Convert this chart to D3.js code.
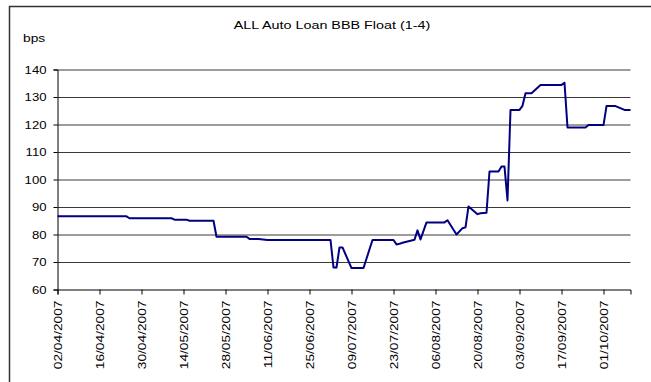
<!DOCTYPE html>
<html>
<head>
<script src="https://cdn.jsdelivr.net/npm/d3@7"></script>
<style>
body { margin: 0; background: #fff; }
text { font-family: "Liberation Sans", Arial, sans-serif; fill: #000; }
</style>
</head>
<body>
<script>
// chart data
var title = "ALL Auto Loan BBB Float (1-4)";
var unitLabel = "bps";

var dates = ["02/04/2007","25/04/2007","26/04/2007","10/05/2007","11/05/2007","15/05/2007",
  "16/05/2007","24/05/2007","25/05/2007","04/06/2007","05/06/2007","08/06/2007","11/06/2007",
  "02/07/2007","03/07/2007","04/07/2007","05/07/2007","06/07/2007","09/07/2007","13/07/2007",
  "16/07/2007","23/07/2007","24/07/2007","25/07/2007","26/07/2007","27/07/2007","30/07/2007",
  "31/07/2007","01/08/2007","03/08/2007","09/08/2007","10/08/2007","13/08/2007","15/08/2007",
  "16/08/2007","17/08/2007","20/08/2007","21/08/2007","23/08/2007","24/08/2007","27/08/2007",
  "28/08/2007","29/08/2007","30/08/2007","31/08/2007","03/09/2007","04/09/2007","05/09/2007",
  "07/09/2007","10/09/2007","17/09/2007","18/09/2007","19/09/2007","25/09/2007","26/09/2007",
  "01/10/2007","02/10/2007","05/10/2007","08/10/2007","10/10/2007"];
var spreads = [86.6,86.6,85.9,85.9,85.4,85.4,
  85.0,85.0,79.2,79.2,78.4,78.4,78.0,
  78.0,68.0,68.0,75.3,75.3,67.8,67.8,
  78.0,78.0,76.4,76.6,77.0,77.3,78.1,
  81.5,78.2,84.4,84.4,85.2,80.0,82.3,
  82.6,90.2,87.4,87.7,87.9,102.9,102.9,
  104.7,104.7,92.4,125.3,125.3,126.8,131.4,
  131.4,134.4,134.4,135.2,118.9,118.9,119.8,
  119.8,126.7,126.7,125.3,125.3];

var yTicks = [60,70,80,90,100,110,120,130,140];
var xTickLabels = ["02/04/2007","16/04/2007","30/04/2007","14/05/2007","28/05/2007","11/06/2007",
  "25/06/2007","09/07/2007","23/07/2007","06/08/2007","20/08/2007","03/09/2007","17/09/2007","01/10/2007"];

var width = 651, height = 382;
var plotLeft = 57.5, plotRight = 630.5, plotTop = 69.5, plotBottom = 289.5;
var stretch = 1.25; // Excel text looks horizontally widened

var parse = d3.timeParse("%d/%m/%Y");
var fmt = d3.timeFormat("%d/%m/%Y");
var series = dates.map(function(d, i) { return {date: parse(d), value: spreads[i]}; });

var svg = d3.select("body").append("svg")
  .attr("width", width)
  .attr("height", height);

svg.append("rect").attr("width", width).attr("height", height).attr("fill", "#fff");

// chart area border (runs off the right and bottom of the picture)
svg.append("rect")
  .attr("x", 9.5).attr("y", 6.5)
  .attr("width", 700).attr("height", 420)
  .attr("fill", "none").attr("stroke", "#333").attr("stroke-width", 1.5);

var x = d3.scaleTime()
  .domain([parse("02/04/2007"), parse("10/10/2007")])
  .range([plotLeft, plotRight]);
var y = d3.scaleLinear().domain([60, 140]).range([plotBottom, plotTop]);

// gridlines
svg.append("g")
  .attr("class", "grid")
  .attr("transform", "translate(" + plotLeft + ",0)")
  .call(d3.axisLeft(y).tickValues(yTicks.slice(1)).tickSize(-(plotRight - plotLeft)).tickFormat(""))
  .call(function(g) {
    g.select(".domain").remove();
    g.selectAll("line").attr("stroke", "#3a3a3a").attr("stroke-width", 1);
  });

// y axis
var yAxis = svg.append("g")
  .attr("transform", "translate(" + plotLeft + ",0)")
  .call(d3.axisLeft(y).tickValues(yTicks).tickSize(4).tickPadding(0));
yAxis.select(".domain").attr("stroke", "#000");
yAxis.selectAll("line").attr("stroke", "#000");
yAxis.selectAll("text")
  .attr("x", -11 / stretch)
  .attr("dy", "0.36em")
  .attr("transform", "scale(" + stretch + ",1)")
  .style("font-size", "10.5px")
  .style("font-family", "'Liberation Sans', Arial, sans-serif");

// x axis
var xAxis = svg.append("g")
  .attr("transform", "translate(0," + plotBottom + ")")
  .call(d3.axisBottom(x).tickValues(xTickLabels.map(parse)).tickSize(5).tickFormat(fmt));
xAxis.select(".domain").attr("stroke", "#000");
xAxis.selectAll("line").attr("stroke", "#000");
xAxis.selectAll("text")
  .attr("x", -11 / stretch)
  .attr("y", 0)
  .attr("dy", "0.36em")
  .attr("text-anchor", "end")
  .attr("transform", "rotate(-90) scale(" + stretch + ",1)")
  .style("font-size", "11px")
  .style("font-family", "'Liberation Sans', Arial, sans-serif");

// series line
var line = d3.line()
  .x(function(d) { return x(d.date); })
  .y(function(d) { return y(d.value); });

svg.append("path")
  .datum(series)
  .attr("d", line)
  .attr("fill", "none")
  .attr("stroke", "#000080")
  .attr("stroke-width", 2)
  .attr("stroke-linejoin", "round");

// title and unit label
svg.append("text")
  .attr("transform", "translate(332,29) scale(" + stretch + ",1)")
  .attr("text-anchor", "middle")
  .style("font-size", "11.5px")
  .text(title);

svg.append("text")
  .attr("transform", "translate(23,42) scale(" + stretch + ",1)")
  .style("font-size", "11px")
  .text(unitLabel);
</script>
</body>
</html>
